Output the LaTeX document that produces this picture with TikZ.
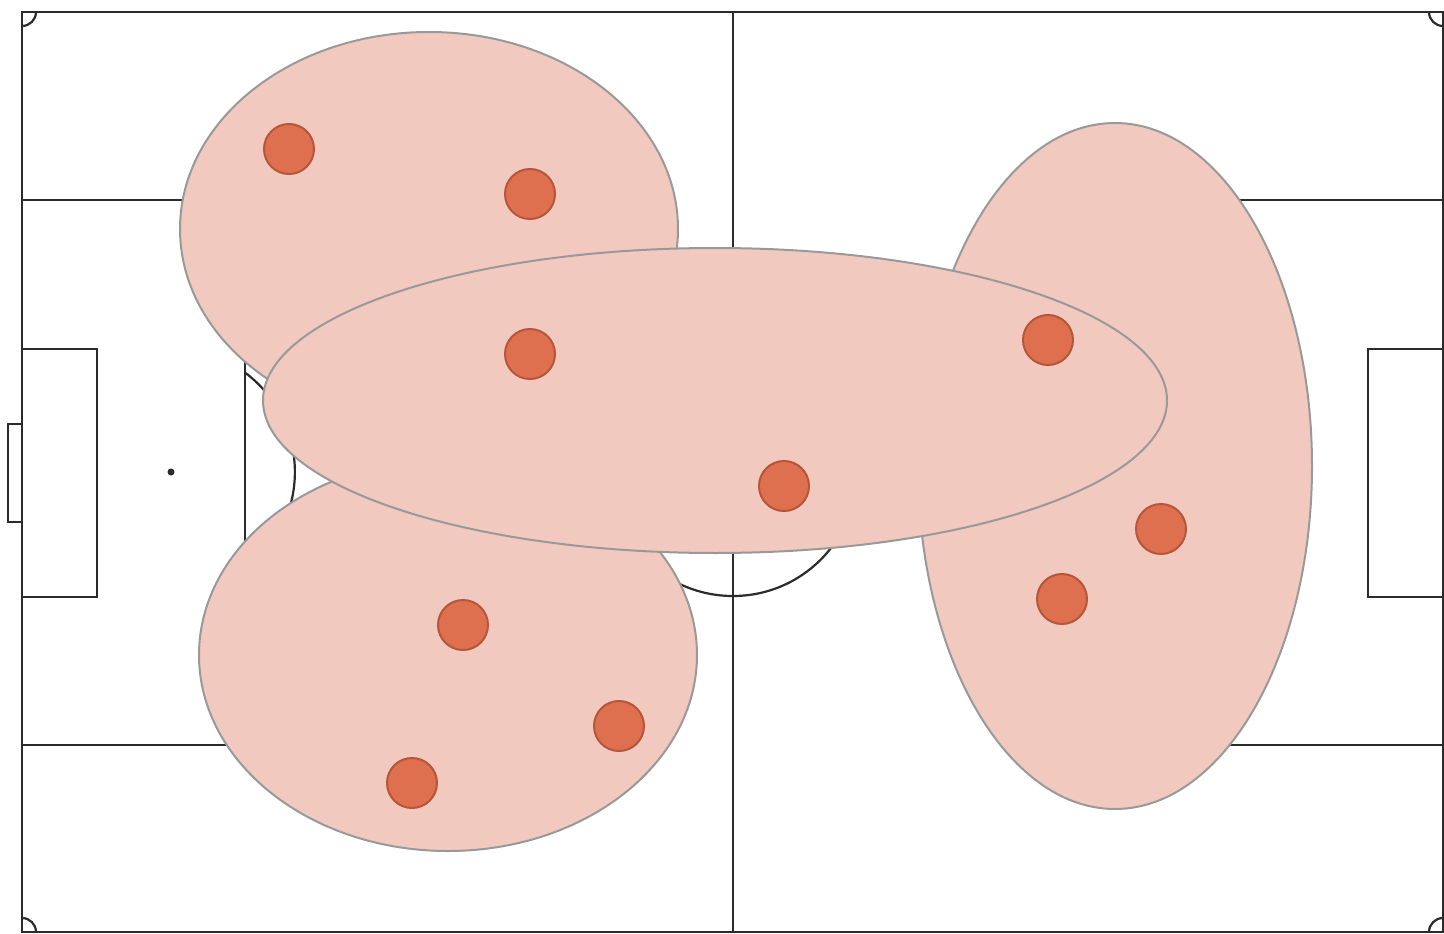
\documentclass[tikz,border=0pt]{standalone}
\usetikzlibrary{shapes.geometric}
\definecolor{zonefill}{HTML}{F1C9BF}
\definecolor{zoneedge}{HTML}{999999}
\definecolor{dotfill}{HTML}{DE7050}
\definecolor{dotedge}{HTML}{B5563A}
\definecolor{pitchline}{HTML}{2B2B2B}
\tikzset{
  pitch/.style={draw=pitchline, line width=2.2pt},
  zone/.style={fill=zonefill, draw=zoneedge, line width=2pt},
  player/.style={circle, fill=dotfill, draw=dotedge, line width=2pt, minimum size=50pt, inner sep=0pt}
}
\begin{document}
\begin{tikzpicture}[x=1pt,y=-1pt]
\useasboundingbox (0,0) rectangle (1444,934);
\fill[white] (0,0) rectangle (1444,934);
% pitch
\draw[pitch] (22,12) rectangle (1443,932);
\draw[pitch] (733,12) -- (733,932);
\draw[pitch] (733,472) circle[radius=124];
\fill[pitchline] (733,472) circle[radius=3];
% left side
\draw[pitch] (22,200) rectangle (245,745);
\draw[pitch] (22,349) rectangle (97,597);
\draw[pitch] (8,424) rectangle (22,522);
\fill[pitchline] (171,472) circle[radius=3.5];
\draw[pitch] (245,571.4) arc[start angle=126.7, end angle=233.3, radius=124, x radius=-124];
% right side
\draw[pitch] (1443,200) -- (1220,200) -- (1220,745) -- (1443,745);
\draw[pitch] (1443,349) -- (1368,349) -- (1368,597) -- (1443,597);
\fill[pitchline] (1294,472) circle[radius=3.5];
\draw[pitch] (1220,571.4) arc[start angle=53.3, end angle=-53.3, radius=124, x radius=-124];
% corners
\draw[pitch] (36,12) arc[start angle=0, end angle=90, radius=14];
\draw[pitch] (1429,12) arc[start angle=180, end angle=90, radius=14];
\draw[pitch] (22,918) arc[start angle=90, end angle=0, radius=14, y radius=-14];
\draw[pitch] (1443,918) arc[start angle=90, end angle=180, radius=14, y radius=-14];
% zones
\draw[zone] (429,229) ellipse[x radius=249, y radius=197];
\draw[zone] (448,655) ellipse[x radius=249, y radius=196];
\draw[zone] (1115,466) ellipse[x radius=197, y radius=343];
\draw[zone] (715,400.5) ellipse[x radius=452, y radius=152.5];
% players
\node[player] (p1) at (289,149) {};
\node[player] (p2) at (530,194) {};
\node[player] (p3) at (530,354) {};
\node[player] (p4) at (1048,340) {};
\node[player] (p5) at (784,486) {};
\node[player] (p6) at (1161,529) {};
\node[player] (p7) at (1062,599) {};
\node[player] (p8) at (463,625) {};
\node[player] (p9) at (619,726) {};
\node[player] (p10) at (412,783) {};
\end{tikzpicture}
\end{document}
